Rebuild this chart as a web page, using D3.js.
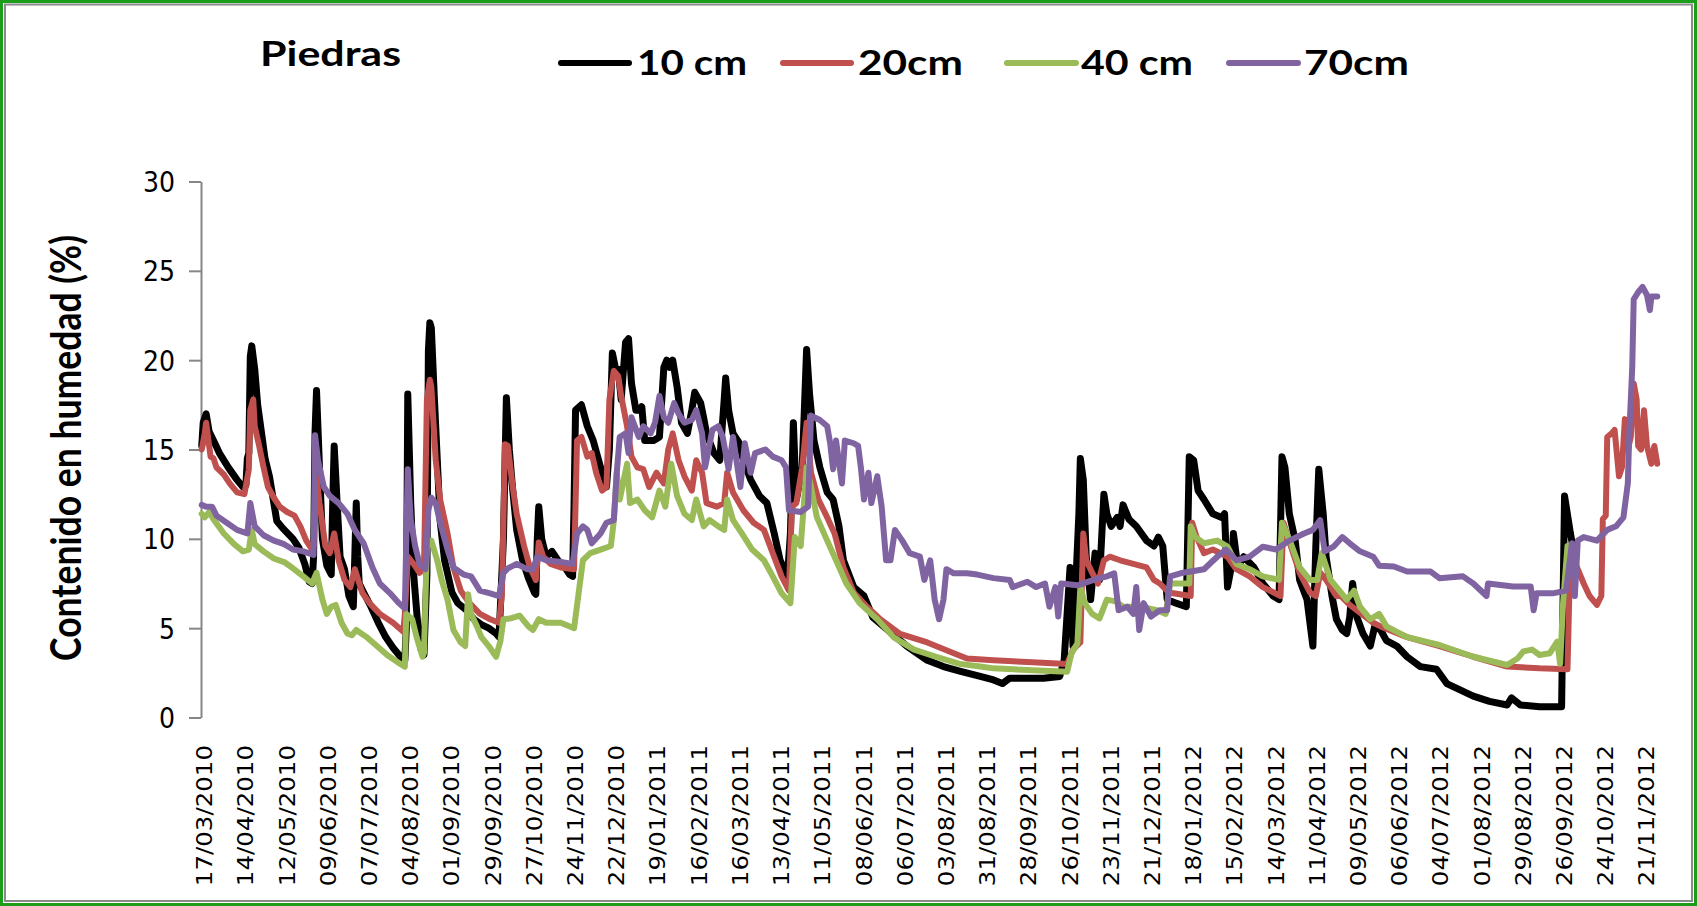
<!DOCTYPE html>
<html><head><meta charset="utf-8">
<script src="https://cdn.jsdelivr.net/npm/d3@7/dist/d3.min.js"></script>
<style>html,body{margin:0;padding:0;background:#fff;} svg{display:block;}</style>
</head><body>
<svg id="chart" width="1697" height="906"></svg>
<script>
// ---------- data ----------
const chartTitle = "Piedras";
const yTitle = "Contenido en humedad (%)";
const numDays = 990;            // daily categories starting 17/03/2010
const labelEvery = 28;          // one date label every 28 days
const dateLabels = ["17/03/2010","14/04/2010","12/05/2010","09/06/2010","07/07/2010","04/08/2010",
  "01/09/2010","29/09/2010","27/10/2010","24/11/2010","22/12/2010","19/01/2011","16/02/2011",
  "16/03/2011","13/04/2011","11/05/2011","08/06/2011","06/07/2011","03/08/2011","31/08/2011",
  "28/09/2011","26/10/2011","23/11/2011","21/12/2011","18/01/2012","15/02/2012","14/03/2012",
  "11/04/2012","09/05/2012","06/06/2012","04/07/2012","01/08/2012","29/08/2012","26/09/2012",
  "24/10/2012","21/11/2012"];
const yTicks = [0,5,10,15,20,25,30];
const seriesNames = ["10 cm","20cm","40 cm","70cm"];
const seriesColors = ["#000000","#C0504D","#9BBB59","#8064A2"];

// [day index, moisture %]
const s10 = [[0,15.2],[1,16.5],[3,17.0],[5,16.0],[8,15.5],[12,14.8],[18,14.0],[24,13.3],[28,12.9],[30,13.0],[31,14.5],[32,14.8],[33,20.2],[34,20.8],[36,19.5],[38,17.5],[40,16.3],[43,14.5],[46,13.5],[49,12.0],[51,11.0],[55,10.6],[62,10.0],[66,9.5],[70,8.6],[73,7.6],[75,7.5],[76,9.0],[77,16.0],[78,18.3],[80,14.0],[82,10.0],[85,8.5],[88,8.0],[89,12.0],[90,15.2],[92,12.0],[94,9.0],[97,8.3],[100,6.8],[103,6.2],[104,9.0],[105,12.0],[106,9.0],[107,7.5],[110,7.0],[115,6.2],[120,5.3],[125,4.5],[130,3.9],[135,3.4],[138,3.2],[139,5.0],[140,18.1],[142,12.0],[144,8.0],[147,5.0],[149,3.8],[151,3.5],[153,8.0],[154,20.5],[155,22.1],[156,21.8],[158,18.0],[160,14.5],[162,11.0],[165,8.8],[170,7.0],[174,6.4],[180,6.0],[185,5.5],[190,5.2],[195,5.0],[200,4.7],[202,4.5],[205,10.0],[207,17.9],[209,15.0],[211,13.0],[214,10.5],[218,8.8],[222,7.8],[226,7.0],[227,6.9],[228,10.0],[229,11.8],[231,10.0],[234,9.0],[238,9.3],[242,8.8],[246,8.5],[250,8.0],[252,7.9],[253,12.0],[254,17.2],[258,17.5],[262,16.3],[266,15.5],[271,14.0],[275,12.9],[277,15.0],[279,20.4],[281,19.6],[283,19.5],[285,17.8],[288,21.0],[290,21.2],[292,18.7],[295,17.2],[298,17.2],[299,17.4],[301,15.5],[307,15.5],[311,15.7],[314,19.6],[316,20.0],[318,19.6],[320,20.0],[323,18.5],[326,16.5],[330,15.9],[333,17.2],[335,18.2],[339,17.6],[341,16.8],[343,15.9],[348,14.8],[352,14.4],[355,17.8],[356,19.0],[358,17.2],[361,15.9],[365,15.4],[368,14.4],[373,13.3],[379,12.4],[384,12.0],[389,10.3],[393,8.8],[398,7.9],[400,10.3],[402,16.5],[404,12.2],[408,14.0],[411,20.6],[413,18.1],[416,15.5],[420,14.0],[425,12.6],[429,12.2],[433,10.7],[436,8.8],[443,7.3],[450,6.8],[456,5.6],[466,4.9],[479,4.0],[493,3.2],[504,2.85],[515,2.6],[529,2.3],[538,2.1],[544,1.9],[549,2.2],[561,2.2],[572,2.2],[583,2.3],[586,3.2],[588,5.8],[590,8.4],[592,4.0],[596,11.4],[597,14.5],[599,13.3],[601,9.0],[604,6.6],[607,9.2],[610,7.7],[613,12.5],[615,11.4],[618,10.7],[622,11.2],[624,10.7],[626,11.9],[630,11.1],[635,10.7],[642,9.9],[647,9.6],[650,10.1],[653,9.6],[656,6.6],[662,6.4],[669,6.2],[671,14.6],[674,14.4],[677,12.7],[681,12.2],[687,11.4],[693,11.2],[695,11.4],[697,7.3],[700,8.6],[701,10.3],[704,8.4],[708,9.0],[715,8.4],[721,7.5],[728,6.8],[732,6.6],[734,14.6],[736,14.0],[739,11.4],[743,9.9],[746,7.7],[751,6.6],[753,5.3],[755,4.0],[757,9.6],[759,13.9],[762,11.4],[764,9.0],[768,6.8],[771,5.5],[775,4.9],[778,4.7],[780,5.6],[782,7.5],[785,5.6],[789,4.7],[794,4.0],[797,5.1],[801,4.9],[805,4.3],[812,4.0],[819,3.4],[828,2.85],[839,2.7],[846,1.9],[855,1.55],[864,1.2],[875,0.9],[887,0.7],[890,1.1],[896,0.7],[909,0.6],[918,0.6],[924,0.6],[926,12.4],[930,10.3],[932,9.4]];

const s20 = [[0,15.0],[2,15.9],[3,16.5],[6,14.6],[8,14.5],[10,14.0],[15,13.6],[19,13.1],[24,12.6],[29,12.5],[32,13.9],[33,17.2],[35,17.8],[36,16.3],[39,15.2],[42,14.0],[45,12.9],[49,12.3],[53,11.8],[58,11.5],[63,11.3],[67,10.7],[71,9.9],[75,9.4],[76,9.6],[78,13.5],[80,12.0],[84,9.6],[87,9.2],[90,10.3],[93,8.8],[97,7.7],[101,7.3],[104,8.3],[109,7.0],[114,6.4],[121,5.8],[130,5.3],[137,4.8],[138,5.8],[140,9.0],[144,8.6],[148,8.1],[151,8.3],[153,17.8],[155,18.9],[156,18.5],[159,14.4],[162,12.2],[167,10.3],[171,8.4],[176,7.1],[182,6.4],[189,5.8],[196,5.5],[202,5.3],[204,6.9],[206,15.3],[208,15.2],[211,13.1],[214,11.4],[219,9.6],[223,8.4],[227,7.7],[229,9.8],[232,9.0],[237,8.6],[244,8.4],[253,8.3],[255,15.5],[258,15.7],[262,14.6],[265,14.8],[268,13.7],[272,12.7],[275,12.9],[277,17.8],[280,19.4],[283,19.1],[285,18.0],[289,16.3],[292,14.6],[296,14.0],[300,13.9],[304,12.9],[309,13.7],[314,13.1],[317,15.0],[320,15.9],[324,14.4],[328,13.5],[333,12.7],[336,14.4],[340,13.7],[343,12.0],[350,11.8],[355,12.0],[357,13.7],[361,12.6],[368,11.6],[375,10.9],[382,10.5],[388,9.2],[394,7.9],[399,7.1],[401,11.8],[404,12.0],[408,14.0],[411,16.5],[414,13.7],[419,12.2],[425,11.2],[430,10.3],[436,8.4],[443,7.0],[452,6.2],[461,5.5],[474,4.7],[493,4.2],[511,3.6],[520,3.3],[538,3.2],[561,3.1],[588,3.0],[592,3.8],[597,4.2],[599,10.3],[601,8.8],[605,8.1],[609,7.5],[613,8.8],[617,9.0],[624,8.8],[633,8.6],[642,8.4],[647,7.7],[651,7.5],[657,7.0],[672,6.8],[673,10.9],[676,10.1],[681,9.2],[687,9.4],[697,9.0],[703,8.3],[712,7.9],[721,7.3],[733,6.8],[735,10.9],[740,9.6],[746,8.1],[753,7.0],[757,6.8],[760,8.1],[764,7.7],[771,6.8],[774,6.8],[780,6.3],[785,6.0],[796,5.3],[801,5.1],[819,4.5],[841,4.0],[864,3.4],[887,2.85],[909,2.75],[928,2.7],[930,9.4],[934,8.5],[939,7.5],[943,6.8],[948,6.3],[951,6.8],[952,11.1],[954,11.3],[955,15.7],[958,15.9],[960,16.1],[963,13.5],[965,14.0],[967,16.7],[969,15.0],[971,15.7],[973,18.7],[975,17.8],[976,15.2],[978,15.0],[980,17.2],[982,15.2],[985,14.2],[987,15.2],[989,14.2]];

const s40 = [[0,11.4],[2,11.2],[5,11.5],[8,11.1],[15,10.3],[22,9.7],[28,9.3],[32,9.4],[34,10.5],[36,9.7],[42,9.3],[49,8.9],[56,8.7],[62,8.35],[69,7.9],[75,7.5],[78,8.1],[82,6.6],[85,5.8],[88,6.2],[91,6.3],[95,5.3],[99,4.7],[102,4.6],[105,4.9],[112,4.5],[119,4.0],[126,3.5],[133,3.1],[138,2.85],[139,5.8],[143,5.5],[146,4.5],[150,3.4],[151,3.6],[153,9.6],[156,9.9],[160,8.8],[163,7.7],[167,6.6],[171,4.9],[176,4.2],[179,4.0],[181,6.9],[183,5.8],[187,5.1],[190,4.5],[195,4.0],[200,3.4],[203,4.3],[205,5.5],[210,5.55],[216,5.7],[222,5.1],[225,4.9],[229,5.5],[234,5.3],[244,5.3],[253,5.0],[256,6.9],[259,8.8],[264,9.2],[271,9.4],[278,9.6],[280,11.0],[282,13.7],[284,12.2],[289,14.2],[291,12.0],[296,12.2],[301,11.6],[306,11.2],[311,12.7],[315,11.8],[319,14.2],[323,12.4],[328,11.4],[333,11.05],[336,12.2],[341,10.7],[345,11.05],[351,10.7],[355,10.5],[357,12.2],[361,11.05],[367,10.3],[374,9.4],[382,8.8],[388,7.9],[394,6.95],[400,6.4],[403,10.1],[407,9.6],[411,14.0],[414,12.9],[418,11.2],[425,9.9],[431,8.8],[438,7.5],[447,6.4],[459,5.5],[470,4.5],[484,3.8],[499,3.4],[515,3.0],[529,2.85],[538,2.75],[561,2.66],[588,2.56],[591,3.6],[595,4.15],[597,7.3],[600,6.4],[605,5.8],[610,5.55],[615,6.6],[621,6.5],[626,6.2],[638,6.2],[649,6.0],[655,5.8],[658,7.5],[665,7.5],[671,7.5],[672,10.7],[675,10.1],[681,9.75],[690,9.9],[697,9.56],[703,8.6],[712,8.3],[721,7.9],[732,7.7],[734,10.9],[740,9.75],[746,8.4],[753,7.7],[758,7.7],[761,9.2],[767,7.7],[774,7.0],[778,6.6],[783,7.1],[787,6.2],[794,5.5],[800,5.8],[805,5.1],[819,4.5],[841,4.06],[864,3.4],[887,2.94],[894,3.3],[898,3.7],[904,3.8],[909,3.5],[916,3.6],[921,4.25],[923,3.0],[925,6.4],[928,9.6]];

const s70 = [[0,11.9],[3,11.8],[7,11.8],[10,11.3],[17,10.9],[24,10.5],[31,10.3],[33,12.0],[36,10.7],[42,10.2],[49,9.9],[56,9.7],[62,9.4],[69,9.3],[76,9.1],[77,15.8],[79,14.4],[83,12.9],[87,12.4],[93,12.0],[99,11.4],[104,10.5],[110,9.75],[116,8.4],[121,7.5],[128,6.95],[134,6.4],[138,6.1],[140,13.9],[142,11.1],[145,9.6],[148,8.6],[152,8.3],[154,11.6],[156,12.3],[159,12.0],[162,10.9],[167,9.4],[171,8.4],[178,8.0],[183,7.9],[189,7.1],[196,6.95],[202,6.8],[205,8.1],[208,8.35],[214,8.6],[221,8.3],[225,8.3],[228,9.0],[234,8.8],[244,8.7],[252,8.6],[255,10.3],[259,10.7],[262,10.5],[265,9.75],[271,10.3],[275,10.9],[280,11.05],[282,13.7],[284,15.7],[288,15.9],[290,14.8],[292,16.8],[297,15.7],[300,16.3],[305,15.9],[308,16.5],[311,18.0],[314,16.8],[317,16.5],[321,17.6],[324,17.0],[328,16.5],[333,16.65],[336,17.2],[340,15.9],[342,14.0],[347,16.1],[351,16.3],[354,15.7],[358,13.9],[361,15.7],[366,12.9],[369,15.35],[373,13.7],[376,14.8],[383,15.0],[388,14.6],[394,14.4],[397,14.0],[399,11.6],[407,11.5],[412,11.8],[414,16.9],[420,16.65],[425,16.3],[427,15.35],[429,13.9],[431,15.5],[435,13.1],[437,15.5],[443,15.35],[446,15.2],[448,13.9],[450,12.2],[453,13.7],[455,12.0],[459,13.5],[462,11.8],[465,8.8],[468,8.8],[471,10.5],[476,9.9],[481,9.2],[488,9.0],[491,7.7],[495,8.8],[498,6.6],[501,5.5],[504,6.6],[506,8.3],[511,8.07],[520,8.07],[527,8.0],[538,7.8],[549,7.7],[551,7.3],[561,7.6],[567,7.3],[573,7.5],[576,6.2],[580,7.3],[582,5.65],[584,7.5],[595,7.4],[606,7.7],[615,7.9],[620,8.07],[623,6.0],[629,6.2],[633,5.8],[635,7.3],[637,4.9],[640,6.4],[645,5.65],[651,6.0],[656,6.0],[658,7.9],[665,8.07],[674,8.2],[681,8.3],[690,9.0],[696,9.4],[703,8.8],[712,9.0],[721,9.56],[730,9.4],[739,9.9],[749,10.3],[755,10.5],[760,11.05],[763,9.3],[769,9.56],[775,10.1],[780,9.75],[787,9.3],[796,9.0],[800,8.5],[810,8.45],[819,8.17],[835,8.17],[841,7.8],[857,7.9],[864,7.5],[873,6.8],[874,7.5],[891,7.33],[903,7.33],[905,6.0],[907,6.95],[918,6.95],[927,7.1],[931,9.75],[933,6.8],[935,9.9],[939,10.1],[948,9.9],[955,10.5],[961,10.7],[966,11.2],[969,13.1],[970,15.9],[972,19.6],[973,23.4],[976,23.8],[979,24.1],[982,23.65],[984,22.8],[985,23.56],[987,23.56],[989,23.56]];

const seriesData = [s10, s20, s40, s70];

// ---------- layout ----------
const W = 1697, H = 906;
const plot = {left: 201, right: 1658, top: 181.5, bottom: 717.5};

const svg = d3.select("#chart");

// borders
svg.append("rect").attr("x",1.5).attr("y",1.5).attr("width",W-3).attr("height",H-3)
  .attr("fill","#fff").attr("stroke","#1a9e1a").attr("stroke-width",3);
svg.append("rect").attr("x",5).attr("y",4.5).attr("width",W-10).attr("height",H-9.5)
  .attr("fill","none").attr("stroke","#8a8a8a").attr("stroke-width",2);

const x = d3.scaleLinear().domain([-0.5, numDays - 0.5]).range([plot.left, plot.right]);
const y = d3.scaleLinear().domain([0, 30]).range([plot.bottom, plot.top]);

// y axis
const yAxis = d3.axisLeft(y).tickValues(yTicks).tickSize(12).tickSizeOuter(0);
const gy = svg.append("g").attr("transform",`translate(${plot.left},0)`).call(yAxis);
gy.select(".domain").attr("stroke","#868686").attr("stroke-width",2);
gy.selectAll(".tick line").attr("stroke","#868686").attr("stroke-width",2);
gy.selectAll(".tick text")
  .attr("x",0).attr("dy","0.36em")
  .attr("transform",`translate(-26,0) scale(0.9,1)`)
  .attr("font-family","'DejaVu Sans', Verdana, sans-serif")
  .attr("font-size",28).attr("fill","#000");

// x axis (date labels)
const labelDays = dateLabels.map((d,i) => i * labelEvery);
const xAxis = d3.axisBottom(x).tickValues(labelDays).tickFormat((d,i) => dateLabels[i]).tickSize(0);
const gx = svg.append("g").attr("transform",`translate(0,745)`).call(xAxis);
gx.select(".domain").remove();
gx.selectAll(".tick text")
  .attr("x",0).attr("y",0).attr("dy","0.36em")
  .attr("text-anchor","end")
  .attr("transform",`translate(2,0) scale(0.9,1) rotate(-90)`)
  .attr("font-family","'DejaVu Sans', Verdana, sans-serif")
  .attr("font-size",24.5).attr("fill","#000");

// lines
const line = d3.line().x(d => x(d[0])).y(d => y(d[1]));
svg.append("g").selectAll("path").data(seriesData).join("path")
  .attr("d", line)
  .attr("fill","none")
  .attr("stroke",(d,i) => seriesColors[i])
  .attr("stroke-width",(d,i) => i === 0 ? 7 : 6)
  .attr("stroke-linejoin","round")
  .attr("stroke-linecap","round");

// y title
svg.append("text")
  .attr("transform",`translate(66,448) scale(1.12,1) rotate(-90)`)
  .attr("text-anchor","middle").attr("dy","0.35em")
  .attr("font-family","Lato, 'Open Sans', sans-serif").attr("font-weight",700)
  .attr("font-size",37).attr("textLength",426).attr("lengthAdjust","spacingAndGlyphs")
  .text(yTitle);

// title
svg.append("text").attr("x",260).attr("y",66)
  .attr("font-family","Lato, 'Open Sans', sans-serif").attr("font-weight",700)
  .attr("font-size",34).attr("textLength",141).attr("lengthAdjust","spacingAndGlyphs")
  .text(chartTitle);

// legend
const legend = [
  {lx1:561, lx2:629, tx:637, tl:110},
  {lx1:783, lx2:851, tx:858, tl:105},
  {lx1:1007, lx2:1076, tx:1081, tl:112},
  {lx1:1229, lx2:1298, tx:1304, tl:105}
];
const lg = svg.append("g");
legend.forEach((L,i) => {
  lg.append("line").attr("x1",L.lx1).attr("x2",L.lx2).attr("y1",63).attr("y2",63)
    .attr("stroke",seriesColors[i]).attr("stroke-width",6).attr("stroke-linecap","round");
  lg.append("text").attr("x",L.tx).attr("y",75)
    .attr("font-family","Lato, 'Open Sans', sans-serif").attr("font-weight",700)
    .attr("font-size",34).attr("textLength",L.tl).attr("lengthAdjust","spacingAndGlyphs")
    .text(seriesNames[i]);
});
</script>
</body></html>
